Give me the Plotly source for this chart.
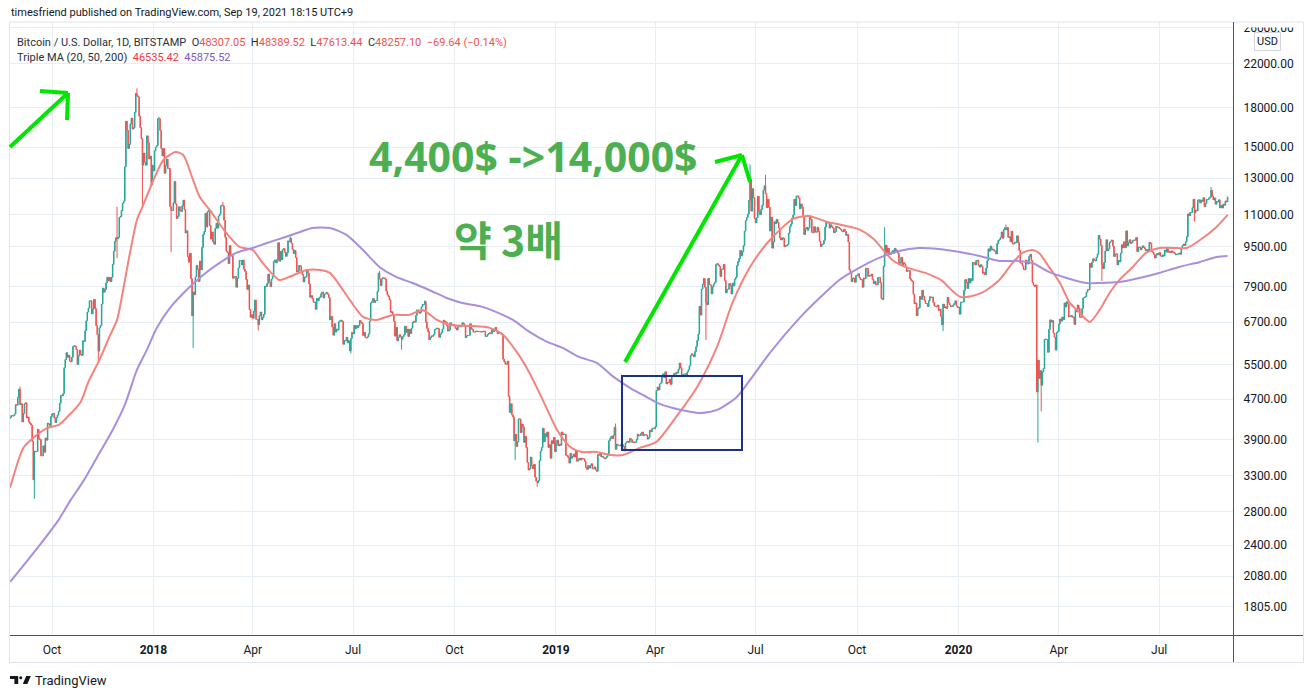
import math
import pandas as pd
import plotly.graph_objects as go

# ---------------- data: BITSTAMP BTC/USD daily closes (one inner list per month) ----------------
close_2017 = [
    [4320, 4360, 4350, 4350, 4390, 4580, 4570, 4740],  # Aug 24-31
    [4920, 4580, 4600, 4230, 4400, 4600, 4620, 4310, 4330, 4230, 4200, 4170, 3870, 3240, 3700,
     3690, 3690, 4090, 3920, 3900, 3620, 3620, 3790, 3680, 3930, 3890, 4210, 4190, 4160, 4340],
    [4390, 4400, 4310, 4220, 4320, 4370, 4440, 4610, 4780, 4770, 4820, 5430, 5640, 5820, 5700, 5750,
     5600, 5580, 5700, 5990, 6010, 5990, 5900, 5510, 5740, 5890, 5770, 5750, 6150, 6130, 6440],
    [6740, 7020, 7150, 7390, 7390, 6960, 7120, 7440, 7130, 6590, 6330, 5860, 6530, 6600, 7280,
     7840, 7690, 7780, 8030, 8240, 8100, 8230, 8070, 8240, 8740, 9290, 9720, 9890, 9830, 9900],
    [10860, 10890, 11200, 11580, 11700, 13700, 16900, 16200, 14900, 15200, 16700, 17150, 16300, 16400,
     17600, 19200, 19000, 18900, 17300, 16400, 15600, 13800, 14600, 14000, 13800, 15800, 15300, 14200,
     14400, 12600, 13800],
]
close_2018 = [
    [13440, 14750, 15000, 15100, 17100, 17100, 16200, 14900, 14400, 14900, 13300, 13800, 14200, 13600,
     13600, 11400, 11200, 11200, 11600, 12800, 11550, 10800, 10900, 11400, 11200, 11150, 11450, 11750,
     11250, 10100, 10200],
    [9050, 8830, 9200, 8180, 6900, 7700, 7600, 8250, 8700, 8540, 8080, 8880, 8520, 9450, 10030, 10170,
     11060, 10380, 11150, 11220, 10460, 9820, 10150, 9690, 9590, 10320, 10570, 10330],
    [10920, 11020, 11440, 11480, 11440, 10710, 9900, 9290, 9230, 8770, 9530, 9140, 9150, 8200, 8260,
     8270, 7870, 8200, 8600, 8900, 8900, 8720, 8920, 8550, 8460, 8150, 7790, 7950, 7100, 6850, 6930],
    [6820, 7050, 7420, 6790, 6780, 6620, 6900, 7020, 6770, 6840, 6940, 7910, 7890, 8000, 8360,
     8060, 7890, 8170, 8280, 8860, 8920, 8800, 8940, 9660, 8870, 9280, 8930, 9350, 9400, 9240],
    [9070, 9220, 9740, 9700, 9850, 9630, 9370, 9190, 9320, 9020, 8440, 8480, 8700, 8680, 8480, 8340,
     8060, 8240, 8240, 8520, 8400, 7990, 7510, 7570, 7460, 7340, 7350, 7110, 7470, 7390, 7490],
    [7520, 7640, 7700, 7490, 7620, 7650, 7680, 7620, 7500, 6770, 6880, 6550, 6310, 6650, 6400,
     6490, 6460, 6710, 6740, 6760, 6720, 6050, 6160, 6150, 6250, 6090, 6150, 5870, 6210, 6390],
    [6350, 6600, 6500, 6590, 6530, 6600, 6750, 6700, 6650, 6300, 6390, 6240, 6230, 6260, 6350, 6730,
     7320, 7370, 7470, 7330, 7400, 7400, 7720, 8400, 8170, 7930, 8180, 8220, 8210, 8170, 7730],
    [7600, 7540, 7420, 7010, 7030, 6940, 6720, 6280, 6540, 6150, 6250, 6320, 6260, 6190, 6270, 6320,
     6580, 6390, 6490, 6270, 6480, 6360, 6520, 6690, 6730, 6700, 6910, 7090, 7030, 6980, 7010],
    [7190, 7270, 7260, 7370, 6700, 6510, 6410, 6180, 6240, 6290, 6280, 6330, 6480, 6490, 6520,
     6500, 6250, 6340, 6390, 6490, 6760, 6720, 6710, 6590, 6430, 6460, 6680, 6630, 6600, 6630],
    [6590, 6510, 6460, 6550, 6600, 6550, 6580, 6680, 6650, 6590, 6240, 6290, 6300, 6300, 6650, 6500,
     6470, 6400, 6400, 6420, 6430, 6420, 6410, 6420, 6400, 6410, 6430, 6420, 6270, 6280, 6330],
    [6360, 6380, 6350, 6480, 6410, 6450, 6540, 6420, 6350, 6380, 6390, 6370, 6330, 5650, 5580,
     5520, 5520, 5600, 4760, 4420, 4600, 4370, 4330, 3880, 4000, 3780, 3860, 4290, 4290, 4030],
    [4190, 4140, 3850, 3960, 3760, 3510, 3390, 3410, 3600, 3460, 3410, 3480, 3280, 3220, 3200, 3230,
     3540, 3700, 3760, 4110, 3860, 4010, 3950, 4040, 3760, 3810, 3580, 3880, 3830, 3940, 3690],
]
close_2019 = [
    [3830, 3890, 3790, 3820, 3800, 4040, 3990, 4000, 4000, 3630, 3620, 3590, 3500, 3660, 3580, 3610,
     3650, 3600, 3700, 3530, 3550, 3580, 3550, 3580, 3570, 3570, 3530, 3430, 3400, 3460, 3420],
    [3460, 3490, 3410, 3410, 3440, 3390, 3370, 3640, 3630, 3660, 3600, 3610, 3590, 3570, 3580, 3610,
     3650, 3880, 3920, 3960, 3920, 3980, 4130, 3730, 3820, 3800, 3800, 3790],
    [3810, 3810, 3780, 3700, 3840, 3860, 3870, 3850, 3920, 3900, 3850, 3860, 3850, 3850, 3900, 4000,
     3970, 3970, 4010, 4040, 3970, 3990, 3990, 3980, 3910, 3930, 4070, 4040, 4100, 4110, 4100],
    [4140, 4890, 4970, 4900, 5040, 5060, 5200, 5280, 5190, 5330, 5040, 5080, 5070, 5150, 5030,
     5210, 5240, 5290, 5270, 5320, 5300, 5390, 5550, 5430, 5210, 5260, 5270, 5280, 5240, 5330],
    [5380, 5480, 5740, 5790, 5760, 5710, 5850, 5980, 6160, 6340, 7210, 6920, 7800, 7980, 8190, 7870,
     7340, 7260, 8200, 7970, 7950, 7630, 7880, 7990, 8050, 8730, 8770, 8720, 8660, 8270, 8550],
    [8550, 8740, 8120, 7670, 7790, 7800, 8000, 7930, 7630, 8020, 7920, 8160, 8230, 8690, 8850,
     8980, 9320, 9090, 9270, 9530, 10190, 10700, 10850, 11020, 11750, 12930, 11170, 12390, 11890, 10800],
    [10580, 10840, 11960, 11150, 10980, 11260, 11480, 12300, 12560, 12100, 11350, 11800, 11380, 10190,
     10870, 9420, 9690, 10640, 10540, 10760, 10600, 10330, 9870, 9780, 9880, 9860, 9480, 9530, 9520,
     9580, 10090],
    [10400, 10520, 10820, 10970, 11800, 11460, 11980, 11980, 11860, 11290, 11550, 11380, 10880, 10030,
     10300, 10370, 10230, 10340, 10920, 10760, 10130, 10110, 10400, 10140, 10140, 10370, 10180, 9720,
     9490, 9580, 9600],
    [9760, 10380, 10620, 10580, 10590, 10330, 10490, 10400, 10330, 10110, 10170, 10410, 10360, 10370,
     10310, 10270, 10190, 10160, 10270, 10180, 9990, 10030, 9690, 8530, 8430, 8070, 8190, 8210, 8050, 8300],
    [8310, 8370, 8220, 8150, 8150, 7870, 8210, 8180, 8590, 8580, 8270, 8300, 8290, 8360, 8160, 8000,
     8080, 7960, 7960, 8230, 8230, 8030, 7470, 7440, 8660, 9250, 9550, 9220, 9420, 9170, 9150],
    [9250, 9310, 9200, 9410, 9310, 9340, 9200, 8770, 8810, 9030, 8720, 8810, 8760, 8630, 8460,
     8490, 8500, 8180, 8120, 8080, 7620, 7290, 7320, 6900, 7130, 7160, 7540, 7440, 7760, 7550],
    [7400, 7300, 7300, 7200, 7390, 7530, 7500, 7520, 7340, 7220, 7200, 7190, 7250, 7070, 7110, 6880,
     6620, 7280, 7150, 7190, 7140, 7510, 7320, 7250, 7200, 7200, 7250, 7300, 7390, 7220, 7170],
]
close_2020 = [
    [7180, 6950, 7340, 7350, 7350, 7760, 8150, 8040, 7820, 8190, 8020, 8180, 8110, 8820, 8810, 8720,
     8900, 8910, 8700, 8630, 8730, 8660, 8390, 8430, 8330, 8600, 8900, 9390, 9290, 9510, 9350],
    [9380, 9330, 9290, 9170, 9620, 9760, 9800, 9900, 10150, 9860, 10270, 10350, 10240, 10360, 9900,
     9930, 9700, 10180, 9600, 9610, 9690, 9660, 9970, 9660, 9320, 8790, 8790, 8680, 8540],
    [8530, 8920, 8760, 8760, 9070, 9160, 8900, 8040, 7940, 7900, 7950, 4860, 5620, 5170, 5360, 5010,
     5330, 5410, 6190, 6190, 6190, 5830, 6480, 6770, 6700, 6750, 6370, 6250, 5890, 6390, 6420],
    [6640, 6800, 6730, 6860, 6780, 7320, 7180, 7360, 7290, 6860, 6880, 6910, 6850, 6860, 6630,
     7100, 7030, 7250, 7130, 6850, 6850, 7130, 7490, 7510, 7540, 7690, 7780, 7770, 8780, 8620],
    [8830, 8970, 8900, 8880, 9030, 9160, 9990, 9820, 9540, 8730, 8570, 8820, 9300, 9790, 9310, 9380,
     9670, 9730, 9780, 9510, 9060, 9170, 9180, 8720, 8900, 8840, 9200, 9570, 9430, 9700, 9440],
    [10200, 9520, 9670, 9790, 9620, 9670, 9760, 9780, 9770, 9890, 9270, 9470, 9470, 9340, 9430,
     9520, 9450, 9380, 9300, 9360, 9290, 9680, 9630, 9290, 9250, 9160, 9000, 9120, 9190, 9140],
    [9230, 9090, 9060, 9130, 9080, 9340, 9250, 9430, 9240, 9280, 9230, 9300, 9240, 9250, 9190, 9130,
     9150, 9170, 9210, 9160, 9390, 9530, 9600, 9540, 9700, 9930, 11030, 10930, 11100, 11110, 11350],
    [11800, 11070, 11230, 11190, 11740, 11770, 11600, 11760, 11690, 11880, 11400, 11570, 11780, 11780,
     11860, 11910, 12300, 11960, 11760, 11870, 11530, 11680, 11650, 11770, 11340, 11470, 11330, 11540,
     11480, 11710, 11660],
    [11930],  # Sep 1
]
first_open = 4300

# intraday extremes (wicks)
wick_high_dates = ["2017-09-02", "2017-11-29", "2017-12-17", "2018-01-06", "2018-03-05", "2018-05-05",
                   "2018-07-25", "2018-09-04", "2019-02-24", "2019-06-26", "2019-07-10", "2019-10-26",
                   "2020-02-13", "2020-08-17"]
wick_high_values = [4980, 11400, 19660, 17250, 11650, 9950, 8480, 7400, 4200, 13850, 13200, 10370,
                    10500, 12480]
wick_low_dates = ["2017-09-15", "2017-11-12", "2017-11-29", "2017-12-22", "2018-01-17", "2018-02-06",
                  "2018-04-06", "2018-06-29", "2018-08-14", "2018-11-25", "2018-12-15", "2019-05-17",
                  "2019-12-18", "2020-03-13", "2020-03-16", "2020-05-10", "2020-08-02"]
wick_low_values = [2970, 5560, 9000, 11450, 9250, 5950, 6450, 5800, 5900, 3550, 3140, 6170, 6430,
                   3850, 4440, 8100, 10650]

# Triple MA (50 and 200 visible)
ma50_dates = ["2017-08-24", "2017-09-05", "2017-09-14", "2017-09-27", "2017-10-07", "2017-10-15",
              "2017-10-27", "2017-11-03", "2017-11-13", "2017-11-22", "2017-11-29", "2017-12-04",
              "2017-12-10", "2017-12-17", "2017-12-22", "2018-01-01", "2018-01-10", "2018-01-21",
              "2018-01-28", "2018-02-05", "2018-02-12", "2018-02-21", "2018-03-08", "2018-03-20",
              "2018-04-01", "2018-04-10", "2018-04-25", "2018-05-04", "2018-05-20", "2018-06-01",
              "2018-06-10", "2018-06-28", "2018-07-10", "2018-07-22", "2018-08-06", "2018-08-21",
              "2018-09-02", "2018-09-15", "2018-09-27", "2018-10-15", "2018-11-02", "2018-11-14",
              "2018-11-27", "2018-12-08", "2018-12-20", "2019-01-02", "2019-01-14", "2019-01-25",
              "2019-02-07", "2019-02-19", "2019-03-03", "2019-03-18", "2019-04-02", "2019-04-20",
              "2019-05-09", "2019-05-27", "2019-06-10", "2019-06-26", "2019-07-14", "2019-08-04",
              "2019-08-18", "2019-09-04", "2019-09-17", "2019-10-02", "2019-10-16", "2019-11-02",
              "2019-11-16", "2019-12-02", "2019-12-16", "2020-01-03", "2020-01-22", "2020-02-07",
              "2020-02-19", "2020-02-28", "2020-03-08", "2020-03-14", "2020-03-23", "2020-04-02",
              "2020-04-11", "2020-04-20", "2020-04-29", "2020-05-08", "2020-05-17", "2020-05-26",
              "2020-06-07", "2020-06-19", "2020-07-01", "2020-07-13", "2020-07-26", "2020-08-07",
              "2020-08-22", "2020-09-01"]
ma50_values = [3124, 3754, 3931, 4116, 4173, 4331, 4640, 5087, 5629, 6259, 6768, 7664, 9046, 10726,
               11388, 12891, 14135, 14667, 14466, 13070, 11924, 11232, 10103, 9472, 9342, 8799, 8136,
               8250, 8520, 8520, 8404, 7421, 6864, 6768, 6927, 6927, 7088, 6768, 6615, 6585, 6524,
               6318, 5814, 5303, 4683, 4078, 3771, 3685, 3685, 3635, 3635, 3754, 3859, 4331, 4971,
               5977, 7319, 8639, 9781, 10775, 10925, 10628, 10482, 10291, 9826, 8921, 8599, 8404,
               8136, 7521, 7664, 8136, 8799, 9215, 9342, 9215, 8639, 8024, 7319, 6991, 6707, 7088,
               7664, 8136, 8639, 9215, 9428, 9428, 9428, 9781, 10386, 10977]

ma200_dates = ["2017-08-24", "2017-09-07", "2017-09-20", "2017-10-07", "2017-10-18", "2017-10-29",
               "2017-11-11", "2017-11-25", "2017-12-06", "2017-12-17", "2017-12-26", "2018-01-04",
               "2018-01-16", "2018-01-31", "2018-02-15", "2018-03-02", "2018-03-17", "2018-04-01",
               "2018-04-14", "2018-04-28", "2018-05-14", "2018-05-25", "2018-06-10", "2018-06-25",
               "2018-07-10", "2018-07-25", "2018-08-09", "2018-08-24", "2018-09-08", "2018-09-24",
               "2018-10-08", "2018-10-24", "2018-11-08", "2018-11-23", "2018-12-08", "2018-12-24",
               "2019-01-07", "2019-01-22", "2019-02-07", "2019-02-21", "2019-03-09", "2019-03-24",
               "2019-04-05", "2019-04-17", "2019-05-12", "2019-05-27", "2019-06-14", "2019-06-26",
               "2019-07-14", "2019-08-10", "2019-08-28", "2019-09-15", "2019-10-03", "2019-10-21",
               "2019-11-08", "2019-11-26", "2019-12-14", "2020-01-02", "2020-01-20", "2020-02-07",
               "2020-02-25", "2020-03-08", "2020-03-23", "2020-04-08", "2020-04-26", "2020-05-08",
               "2020-05-26", "2020-06-13", "2020-07-01", "2020-07-19", "2020-08-07", "2020-08-22",
               "2020-09-01"]
ma200_values = [2025, 2210, 2401, 2695, 2955, 3210, 3602, 4078, 4576, 5376, 5895, 6524, 7154, 7769,
                8326, 8799, 9215, 9428, 9648, 9872, 10149, 10338, 10338, 10010, 9342, 8639, 8250,
                8024, 7769, 7487, 7319, 7212, 7017, 6768, 6405, 6116, 5950, 5708, 5552, 5230, 4950,
                4748, 4597, 4513, 4410, 4472, 4748, 5134, 5814, 6833, 7487, 8136, 8599, 9004, 9299,
                9428, 9385, 9258, 9088, 8881, 8881, 8799, 8443, 8212, 8024, 8024, 8062, 8212, 8404,
                8639, 8841, 9046, 9088]

price_ticks = [1805, 2080, 2400, 2800, 3300, 3900, 4700, 5500, 6700, 7900, 9500, 11000, 13000,
               15000, 18000, 22000, 26000]
time_ticks = ["2017-10-01", "2018-01-01", "2018-04-01", "2018-07-01", "2018-10-01", "2019-01-01",
              "2019-04-01", "2019-07-01", "2019-10-01", "2020-01-01", "2020-04-01", "2020-07-01"]
time_labels = ["Oct", "<b>2018</b>", "Apr", "Jul", "Oct", "<b>2019</b>", "Apr", "Jul", "Oct",
               "<b>2020</b>", "Apr", "Jul"]

# ---------------- build OHLC ----------------
def expand(year, first_month, first_day, months):
    ds, cs = [], []
    for i, vals in enumerate(months):
        m = first_month + i
        d0 = first_day if i == 0 else 1
        for k, v in enumerate(vals):
            ds.append(pd.Timestamp(year=year, month=m, day=d0 + k))
            cs.append(v)
    return ds, cs

dates, closes = [], []
for y, fm, fd, blk in [(2017, 8, 24, close_2017), (2018, 1, 1, close_2018),
                       (2019, 1, 1, close_2019), (2020, 1, 1, close_2020)]:
    d, c = expand(y, fm, fd, blk)
    dates += d
    closes += c

opens = [first_open] + closes[:-1]
highs = [max(o, c) for o, c in zip(opens, closes)]
lows = [min(o, c) for o, c in zip(opens, closes)]
idx = {d.strftime("%Y-%m-%d"): i for i, d in enumerate(dates)}
for d, v in zip(wick_high_dates, wick_high_values):
    i = idx[d]
    highs[i] = max(highs[i], v)
for d, v in zip(wick_low_dates, wick_low_values):
    i = idx[d]
    lows[i] = min(lows[i], v)

# ---------------- figure ----------------
PL, PR, PT, PB = 10, 1233, 22, 635

def px(x):
    return (x - PL) / (PR - PL)

def py(y):
    return (PB - y) / (PB - PT)

UP, DOWN = "#26a69a", "#ef5350"
GRID = "#e6edf3"

fig = go.Figure()
fig.add_trace(go.Candlestick(
    x=dates, open=opens, high=highs, low=lows, close=closes,
    increasing=dict(line=dict(color=UP, width=1), fillcolor=UP),
    decreasing=dict(line=dict(color=DOWN, width=1), fillcolor=DOWN),
    whiskerwidth=0, showlegend=False, hoverinfo="skip"))
fig.add_trace(go.Scatter(x=ma50_dates, y=ma50_values, mode="lines",
                         line=dict(color="#f5837d", width=2, shape="spline", smoothing=0.7),
                         showlegend=False, hoverinfo="skip"))
fig.add_trace(go.Scatter(x=ma200_dates, y=ma200_values, mode="lines",
                         line=dict(color="#a98fdb", width=2, shape="spline", smoothing=0.7),
                         showlegend=False, hoverinfo="skip"))

fig.update_layout(
    width=1313, height=698, autosize=False,
    margin=dict(l=PL, r=1313 - PR, t=PT, b=698 - PB),
    paper_bgcolor="white", plot_bgcolor="white",
    showlegend=False, hovermode=False,
    font=dict(family="Roboto", size=12, color="#131722"),
)
fig.update_xaxes(
    type="date", range=["2017-08-23 22:00", "2020-09-05 22:00"],
    rangeslider=dict(visible=False),
    tickmode="array", tickvals=time_ticks, ticktext=time_labels,
    showgrid=True, gridcolor=GRID, gridwidth=1,
    ticks="outside", ticklen=4, tickcolor="rgba(0,0,0,0)",
    showline=False, zeroline=False, tickfont=dict(size=12, color="#131722"),
)
fig.update_yaxes(
    type="log", range=[math.log10(1586), math.log10(26690)], side="right",
    tickmode="array", tickvals=price_ticks, ticktext=[f"{v:.2f}" for v in price_ticks],
    showgrid=True, gridcolor=GRID, gridwidth=1,
    ticks="outside", ticklen=7, tickcolor="rgba(0,0,0,0)",
    showline=False, zeroline=False, tickfont=dict(size=12, color="#131722"),
)

shapes = []
# the top price label is cut by the pane edge
shapes.append(dict(type="rect", xref="paper", yref="paper", x0=px(1234), x1=px(1303), y0=py(27.5), y1=py(0),
                   fillcolor="white", line=dict(width=0), layer="above"))
# outer frame
shapes.append(dict(type="rect", xref="paper", yref="paper", x0=px(9.5), x1=px(1303.5), y0=py(662.5), y1=py(22),
                   line=dict(color="#e0e3eb", width=1), fillcolor="rgba(0,0,0,0)", layer="above"))
# axis separators
shapes.append(dict(type="line", xref="paper", yref="paper", x0=px(10), x1=px(1303), y0=py(635.5), y1=py(635.5),
                   line=dict(color="#50535e", width=1), layer="above"))
shapes.append(dict(type="line", xref="paper", yref="paper", x0=px(1233.5), x1=px(1233.5), y0=py(22), y1=py(662),
                   line=dict(color="#50535e", width=1), layer="above"))
# green arrows
ARROW = "#00e600"
for (x0, y0, x1, y1) in [(10, 147, 68, 93), (40, 91, 68, 93), (68, 93, 67, 120),
                         (625, 362, 742, 155), (715, 162, 742, 155), (742, 155, 750, 182)]:
    shapes.append(dict(type="line", xref="paper", yref="paper", x0=px(x0), y0=py(y0), x1=px(x1), y1=py(y1),
                       line=dict(color=ARROW, width=4), layer="above"))
# blue box
shapes.append(dict(type="rect", xref="paper", yref="paper", x0=px(622), x1=px(742), y0=py(450), y1=py(376),
                   line=dict(color="#1b2f8c", width=2), fillcolor="rgba(0,0,0,0)", layer="above"))
# TradingView logo
shapes.append(dict(type="path", xref="paper", yref="paper",
                   path=f"M {px(10)},{py(676)} L {px(18.2)},{py(676)} L {px(18.2)},{py(684)} L {px(14.4)},{py(684)} "
                        f"L {px(14.4)},{py(679)} L {px(10)},{py(679)} Z",
                   fillcolor="#131722", line=dict(width=0)))
shapes.append(dict(type="circle", xref="paper", yref="paper", x0=px(19.2), x1=px(22.2), y0=py(679.3), y1=py(676.3),
                   fillcolor="#131722", line=dict(width=0)))
shapes.append(dict(type="path", xref="paper", yref="paper",
                   path=f"M {px(26.2)},{py(676)} L {px(30.8)},{py(676)} L {px(27.4)},{py(684)} L {px(22.8)},{py(684)} Z",
                   fillcolor="#131722", line=dict(width=0)))
fig.update_layout(shapes=shapes)

RED_T, PURPLE_T, TXT = "#ef5350", "#7e57c2", "#2a2e39"
sp = "\u00a0"
line1 = (f"Bitcoin / U.S. Dollar, 1D, BITSTAMP{sp}{sp}O<span style='color:{RED_T}'>48307.05</span>"
         f"{sp}{sp}H<span style='color:{RED_T}'>48389.52</span>{sp}{sp}L<span style='color:{RED_T}'>47613.44</span>"
         f"{sp}{sp}C<span style='color:{RED_T}'>48257.10</span>{sp}{sp}<span style='color:{RED_T}'>−69.64 (−0.14%)</span>")
line2 = (f"Triple MA (20, 50, 200){sp}{sp}<span style='color:#f23645'>46535.42</span>"
         f"{sp}{sp}<span style='color:{PURPLE_T}'>45875.52</span>")

ann = [
    dict(text="timesfriend published on TradingView.com, Sep 19, 2021 18:15 UTC+9", x=px(9), y=py(12),
         xanchor="left", yanchor="middle", font=dict(size=11, color="#131722")),
    dict(text=line1, x=px(15), y=py(42), xanchor="left", yanchor="middle", font=dict(size=11, color=TXT)),
    dict(text=line2, x=px(15), y=py(58), xanchor="left", yanchor="middle", font=dict(size=11, color=TXT)),
    dict(text="USD", x=px(1267.5), y=py(41.7), xanchor="center", yanchor="middle",
         font=dict(size=11, color="#131722"), bgcolor="white", bordercolor="#d1d4dc", borderwidth=1, borderpad=2),
    dict(text="TradingView", x=px(33), y=py(680), xanchor="left", yanchor="middle",
         font=dict(size=13, color="#131722")),
    dict(text="<b>4,400$ ->14,000$</b>", x=px(533), y=py(156), xanchor="center", yanchor="middle",
         font=dict(size=41, color="#4caf50", family="Noto Sans")),
    dict(text="<b>약 3배</b>", x=px(508), y=py(238), xanchor="center", yanchor="middle",
         font=dict(size=41, color="#4caf50", family="Noto Sans CJK KR")),
]
for a in ann:
    a.update(xref="paper", yref="paper", showarrow=False)
fig.update_layout(annotations=ann)

fig.write_html("out.html", config={"displayModeBar": False, "staticPlot": True},
               post_script="document.body.style.margin='0';document.body.style.overflow='hidden';")
